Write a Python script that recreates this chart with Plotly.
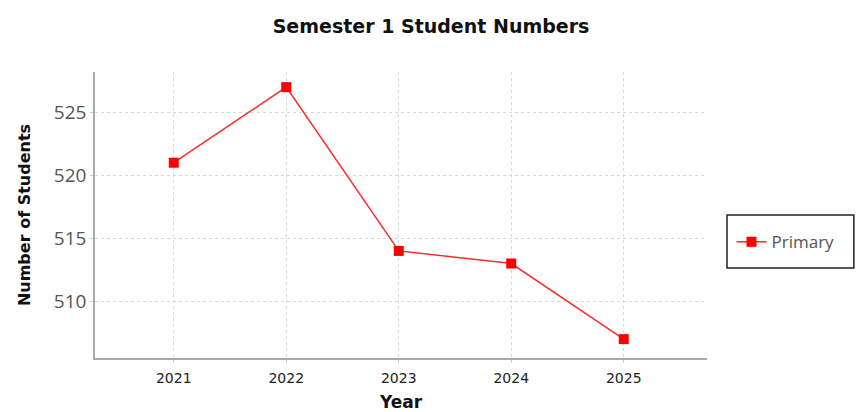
import plotly.graph_objects as go

years = [2021, 2022, 2023, 2024, 2025]
students = [521, 527, 514, 513, 507]
y_ticks = [510, 515, 520, 525]

fig = go.Figure()
fig.add_trace(go.Scatter(
    x=years, y=students, name="Primary", mode="lines+markers",
    line=dict(color="#ff2a2a", width=1.5),
    marker=dict(symbol="square", size=10, color="#ff0000"),
))

fig.update_layout(
    width=862, height=412,
    margin=dict(l=95, r=155, t=72, b=54),
    paper_bgcolor="white", plot_bgcolor="white",
    title=dict(text="<b>Semester 1 Student Numbers</b>", x=0.5, xanchor="center",
               y=0.935, yanchor="middle",
               font=dict(family="DejaVu Sans", size=19, color="#111")),
    showlegend=True,
    legend=dict(x=1.04, y=0.405, xanchor="left", yanchor="middle",
                borderwidth=0, bgcolor="rgba(0,0,0,0)",
                font=dict(family="Open Sans", size=17, color="#555")),
    shapes=[dict(type="rect", xref="paper", yref="paper",
                 x0=1.0327, x1=1.240, y0=0.315, y1=0.5,
                 line=dict(color="#222", width=1.5), fillcolor="rgba(0,0,0,0)")],
    xaxis=dict(
        range=[2020.3, 2025.74], tickvals=years, ticktext=[str(y) for y in years],
        showgrid=True, gridcolor="#d8d8d8", griddash="dot", gridwidth=1,
        showline=True, linecolor="#aaaaaa", linewidth=1.5,
        ticks="outside", ticklen=3, tickcolor="#cccccc", ticklabelstandoff=3,
        tickfont=dict(family="DejaVu Sans", size=14, color="#222"),
        title=dict(text="<b>Year</b>", font=dict(family="DejaVu Sans", size=17, color="#111"), standoff=12),
        zeroline=False, automargin=False,
    ),
    yaxis=dict(
        range=[505.5, 528.2], tickvals=y_ticks,
        showgrid=True, gridcolor="#d8d8d8", griddash="dot", gridwidth=1,
        showline=True, linecolor="#aaaaaa", linewidth=1.5,
        ticks="outside", ticklen=3, tickcolor="#cccccc",
        tickfont=dict(family="Open Sans", size=19, color="#555"),
        title=dict(text="<b>Number of Students</b>", font=dict(family="DejaVu Sans", size=16, color="#111"), standoff=19),
        zeroline=False, automargin=False,
    ),
)

fig.write_html("out.html")
